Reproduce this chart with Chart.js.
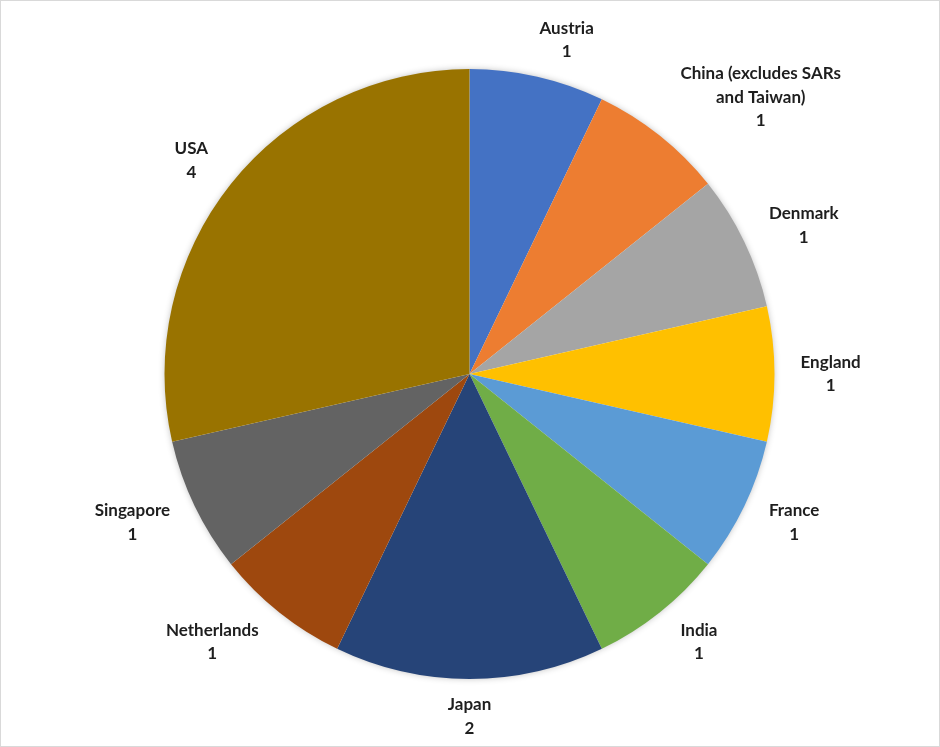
<!DOCTYPE html>
<html>
<head>
<meta charset="utf-8">
<script src="https://cdn.jsdelivr.net/npm/chart.js@4"></script>
<style>
  html, body { margin: 0; padding: 0; background: #fff; }
  canvas { display: block; }
</style>
</head>
<body>
<canvas id="pie" width="940" height="747"></canvas>
<script>
// data
const countries = ["Austria", ["China (excludes SARs", "and Taiwan)"], "Denmark", "England", "France",
  "India", "Japan", "Netherlands", "Singapore", "USA"];
const counts = [1, 1, 1, 1, 1, 1, 2, 1, 1, 4];
const colors = ["#4472C4", "#ED7D31", "#A5A5A5", "#FFC000", "#5B9BD5",
  "#70AD47", "#264478", "#9E480E", "#636363", "#997300"];

const labelFont = "bold 17px Lato, 'Open Sans', sans-serif";
const lineH = 23.5;

// frame + soft shadow under the pie
const framePlugin = {
  id: "frame",
  beforeDraw(chart) {
    const c = chart.ctx;
    c.save();
    c.fillStyle = "#fff";
    c.fillRect(0, 0, chart.width, chart.height);
    c.strokeStyle = "#d9d9d9";
    c.lineWidth = 1;
    c.strokeRect(0.5, 0.5, chart.width - 1, chart.height - 1);
    c.restore();
  },
  beforeDatasetsDraw(chart) {
    const arc = chart.getDatasetMeta(0).data[0];
    if (!arc) return;
    const c = chart.ctx;
    c.save();
    c.shadowColor = "rgba(0,0,0,0.3)";
    c.shadowBlur = 7;
    c.fillStyle = "#fff";
    c.beginPath();
    c.arc(arc.x, arc.y, arc.outerRadius - 1, 0, Math.PI * 2);
    c.fill();
    c.restore();
  }
};

// outside-end labels: category name + value, anchored just off the rim
const labelPlugin = {
  id: "outsideLabels",
  afterDatasetsDraw(chart) {
    const c = chart.ctx;
    const meta = chart.getDatasetMeta(0);
    c.save();
    c.font = labelFont;
    c.fillStyle = "#1e1e1e";
    c.textAlign = "center";
    c.textBaseline = "middle";
    meta.data.forEach((arc, i) => {
      const name = countries[i];
      const lines = (Array.isArray(name) ? name : [name]).concat(String(counts[i]));
      const w = Math.max(...lines.map(l => c.measureText(l).width));
      const h = lines.length * lineH;
      const mid = (arc.startAngle + arc.endAngle) / 2;
      const dx = Math.cos(mid), dy = Math.sin(mid);
      const ax = arc.x + dx * (arc.outerRadius + 14);
      const ay = arc.y + dy * (arc.outerRadius + 14);
      const hx = Math.sign(dx) * Math.min(1, 3 * Math.abs(dx)) * (w / 2 + 12);
      const cx = ax + hx, cy = ay + dy * h / 2;
      lines.forEach((l, k) => {
        c.fillText(l, cx, cy - h / 2 + lineH / 2 + k * lineH);
      });
    });
    c.restore();
  }
};

new Chart(document.getElementById("pie"), {
  type: "pie",
  data: {
    labels: countries.map(n => Array.isArray(n) ? n.join(" ") : n),
    datasets: [{
      data: counts,
      backgroundColor: colors,
      borderWidth: 0
    }]
  },
  options: {
    responsive: false,
    animation: false,
    devicePixelRatio: 1,
    layout: { padding: { top: 69, bottom: 68, left: 164, right: 165 } },
    plugins: {
      legend: { display: false },
      tooltip: { enabled: false }
    }
  },
  plugins: [framePlugin, labelPlugin]
});
</script>
</body>
</html>
